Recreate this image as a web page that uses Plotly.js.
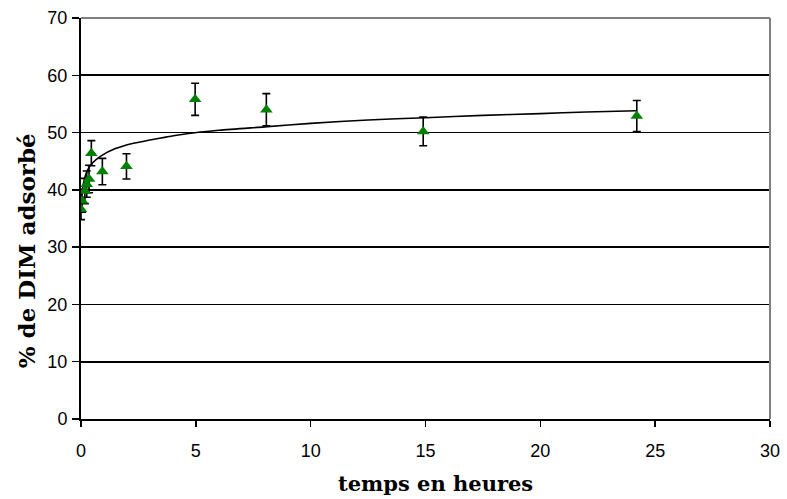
<!DOCTYPE html>
<html>
<head>
<meta charset="utf-8">
<script src="https://cdn.plot.ly/plotly-3.0.1.min.js"></script>
<style>html,body{margin:0;padding:0;background:#fff;}#chart{width:787px;height:499px;}</style>
</head>
<body>
<div id="chart"></div>
<script>
// Measured points (hours, % adsorbed, error)
const timeHours = [0, 0.05, 0.17, 0.25, 0.35, 0.45, 0.93, 1.98, 4.97, 8.07, 14.9, 24.2];
const adsorbed  = [36.6, 38.1, 39.8, 41.0, 41.9, 46.4, 43.2, 44.1, 55.8, 54.0, 50.2, 52.9];
const errors    = [1.8, 2.0, 2.2, 2.3, 2.4, 2.2, 2.3, 2.2, 2.8, 2.8, 2.5, 2.7];

// Trend curve
const curveX = [0.02, 0.05, 0.1, 0.2, 0.35, 0.5, 0.86, 1.5, 2.24, 3.0, 3.7, 4.6, 6, 8, 10, 12.5, 15, 17.5, 20, 22, 24.2];
const curveY = [38.0, 39.6, 41.0, 42.6, 43.9, 44.7, 45.9, 47.2, 48.1, 48.7, 49.2, 49.8, 50.4, 51.0, 51.6, 52.2, 52.6, 53.0, 53.3, 53.6, 53.8];

const xTicks = [0, 5, 10, 15, 20, 25, 30];
const yTicks = [0, 10, 20, 30, 40, 50, 60, 70];
const xTitle = 'temps en heures';
const yTitle = '% de DIM adsorbé';

const traces = [
  {
    x: curveX, y: curveY, type: 'scatter', mode: 'lines',
    line: {color: '#000', width: 1.6, shape: 'spline', smoothing: 0.8},
    hoverinfo: 'skip', showlegend: false
  },
  {
    x: timeHours, y: adsorbed, type: 'scatter', mode: 'markers',
    marker: {symbol: 'triangle-up', color: '#008000', size: 11},
    error_y: {type: 'data', array: errors, visible: true, color: '#000', thickness: 1.6, width: 4},
    showlegend: false
  }
];

const tickFont = {family: 'Liberation Sans, Arial, sans-serif', size: 18, color: '#000'};

const layout = {
  width: 787, height: 499,
  margin: {l: 81, r: 17, t: 18, b: 80},
  paper_bgcolor: '#fff', plot_bgcolor: '#fff',
  showlegend: false,
  xaxis: {
    range: [0, 30], tickvals: xTicks, ticktext: xTicks.map(String),
    showgrid: false, zeroline: false,
    showline: true, linecolor: '#000', linewidth: 2,
    ticks: 'outside', ticklen: 6, tickwidth: 1.5, tickcolor: '#000',
    tickfont: tickFont, ticklabelstandoff: 8
  },
  yaxis: {
    range: [0, 70], tickvals: yTicks, ticktext: yTicks.map(String),
    showgrid: true, gridcolor: '#000', gridwidth: 1.8, zeroline: false,
    showline: true, linecolor: '#000', linewidth: 2,
    ticks: 'outside', ticklen: 7, tickwidth: 1.5, tickcolor: '#000',
    tickfont: tickFont, ticklabelstandoff: 1
  },
  annotations: [
    {text: xTitle, xref: 'paper', yref: 'paper', x: 0.5145, y: -0.16, xanchor: 'center', yanchor: 'middle',
     showarrow: false, font: {family: 'DejaVu Serif, serif', size: 21, color: '#000', weight: 'bold'}},
    {text: yTitle, xref: 'paper', yref: 'paper', x: -0.078, y: 0.419, xanchor: 'center', yanchor: 'middle',
     textangle: -90, showarrow: false, font: {family: 'DejaVu Serif, serif', size: 23, color: '#000', weight: 'bold'}}
  ],
  shapes: [
    {type: 'line', xref: 'paper', yref: 'paper', x0: 0, x1: 1, y0: 1, y1: 1, line: {color: '#808080', width: 2}},
    {type: 'line', xref: 'paper', yref: 'paper', x0: 1, x1: 1, y0: 0, y1: 1, line: {color: '#808080', width: 2}}
  ]
};

Plotly.newPlot('chart', traces, layout, {displayModeBar: false, staticPlot: true});
</script>
</body>
</html>
